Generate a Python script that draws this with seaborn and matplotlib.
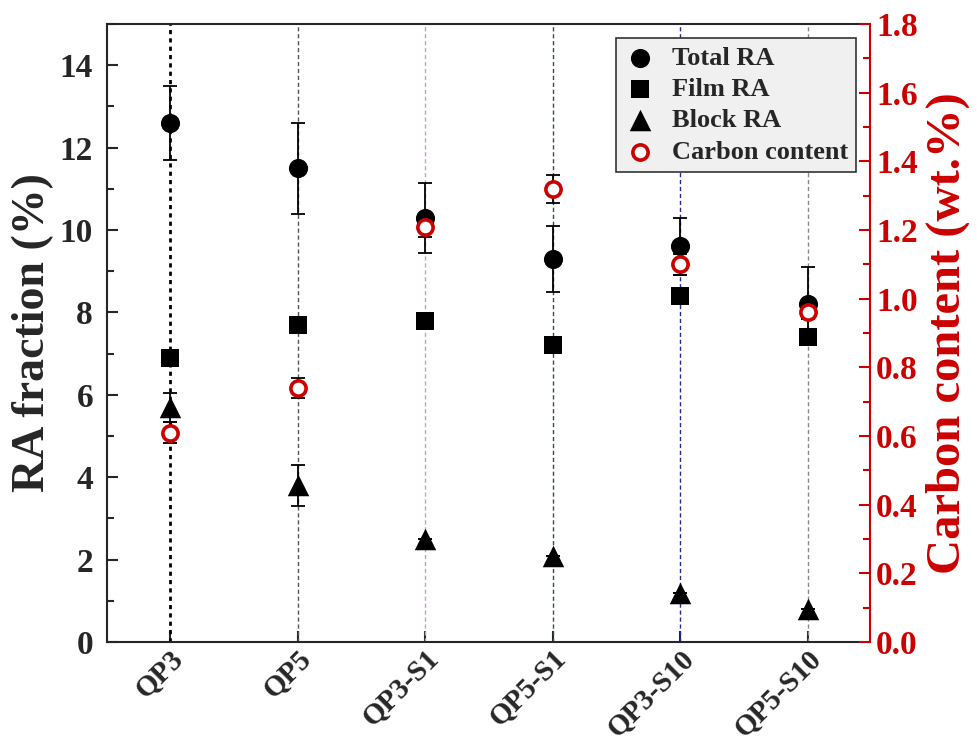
import matplotlib
matplotlib.use("Agg")
import matplotlib.pyplot as plt
import matplotlib.transforms as mtransforms
import pandas as pd
import seaborn as sns
from matplotlib.ticker import AutoMinorLocator, MultipleLocator, FormatStrFormatter

# Data
samples = ["QP3", "QP5", "QP3-S1", "QP5-S1", "QP3-S10", "QP5-S10"]
total_ra = [12.6, 11.5, 10.3, 9.3, 9.6, 8.2]
total_err = [0.9, 1.1, 0.85, 0.8, 0.7, 0.9]
film_ra = [6.9, 7.7, 7.8, 7.2, 8.4, 7.4]
block_ra = [5.7, 3.8, 2.5, 2.1, 1.2, 0.8]
block_err = [0.35, 0.5, 0.0, 0.0, 0.0, 0.0]
carbon = [0.61, 0.74, 1.21, 1.32, 1.10, 0.96]
carbon_err = [0.03, 0.03, 0.03, 0.04, 0.03, 0.02]

guide_colors = ["black", "#555555", "#c89ad8", "#2f4f4f", "#2a2a8a", "#8a8a8a"]

RED = "#cc0000"

sns.set_style("ticks")
plt.rcParams["font.family"] = ["Liberation Serif", "DejaVu Serif"]
plt.rcParams["font.weight"] = "bold"

df = pd.DataFrame({
    "pos": range(len(samples)),
    "total": total_ra,
    "film": film_ra,
    "block": block_ra,
    "carbon": carbon,
})

fig = plt.figure(figsize=(9.78, 7.43), dpi=100)
ax = fig.add_axes([0.1094, 0.1359, 0.772, 0.8318])
ax2 = ax.twinx()

# vertical guide lines per sample
for i, c in enumerate(guide_colors):
    if i == 0:
        ax.axvline(i, color=c, ls=(0, (1.5, 1.5)), lw=2.0, zorder=1)
    else:
        ax.axvline(i, color=c, ls=(0, (3, 2)), lw=1.0, zorder=1)

ax.errorbar(df["pos"], df["total"], yerr=total_err, fmt="none", ecolor="black",
            elinewidth=1.3, capsize=5, capthick=1.3, zorder=2)
ax.errorbar(df["pos"], df["block"], yerr=block_err, fmt="none", ecolor="black",
            elinewidth=1.3, capsize=5, capthick=1.3, zorder=2)

sns.scatterplot(data=df, x="pos", y="total", marker="o", s=190, color="black",
                edgecolor="black", linewidth=0, ax=ax, label="Total RA", zorder=3)
sns.scatterplot(data=df, x="pos", y="film", marker="s", s=165, color="black",
                edgecolor="black", linewidth=0, ax=ax, label="Film RA", zorder=3)
sns.scatterplot(data=df, x="pos", y="block", marker="^", s=240, color="black",
                edgecolor="black", linewidth=0, ax=ax, label="Block RA", zorder=3)

ax2.errorbar(df["pos"], df["carbon"], yerr=carbon_err, fmt="none", ecolor="black",
             elinewidth=1.3, capsize=5, capthick=1.3, zorder=2)
sns.scatterplot(data=df, x="pos", y="carbon", marker="o", s=120, facecolor="white",
                edgecolor=RED, linewidth=2.6, ax=ax2, label="Carbon content", zorder=3)

ax.set_xlim(-0.494, 5.423)
ax.set_ylim(0, 15)
ax2.set_ylim(0, 1.8)

ax.set_xticks(range(len(samples)))
ax.set_xticklabels(samples, rotation=45, ha="right", rotation_mode="anchor",
                   fontsize=21, fontweight="bold")
shift = mtransforms.ScaledTranslation(10 / 100, 0, fig.dpi_scale_trans)
for lab in ax.get_xticklabels():
    lab.set_transform(lab.get_transform() + shift)
ax.set_xlabel("")
ax.set_ylabel("RA fraction (%)", fontsize=33, fontweight="bold", labelpad=4)
ax2.set_ylabel("Carbon content (wt.%)", fontsize=35, fontweight="bold",
               color=RED, labelpad=6)

ax.yaxis.set_major_locator(MultipleLocator(2))
ax.yaxis.set_minor_locator(AutoMinorLocator(2))
ax2.yaxis.set_major_locator(MultipleLocator(0.2))
ax2.yaxis.set_minor_locator(AutoMinorLocator(2))
ax2.yaxis.set_major_formatter(FormatStrFormatter("%.1f"))

ax.tick_params(axis="both", which="major", direction="in", length=8, width=1.5)
ax.tick_params(axis="y", which="major", labelsize=24, pad=10)
ax.tick_params(axis="y", which="minor", direction="in", length=5, width=1.5)
ax.tick_params(axis="x", which="major", pad=2)
ax.tick_params(axis="y", which="both", right=False)
ax2.tick_params(axis="y", which="major", direction="in", length=8, width=1.5,
                color=RED, labelcolor=RED, labelsize=24, pad=4)
ax2.tick_params(axis="y", which="minor", direction="in", length=5, width=1.5, color=RED)

for sp in ["left", "bottom", "top"]:
    ax.spines[sp].set_linewidth(1.5)
ax.spines["right"].set_visible(False)
ax2.spines["right"].set_color(RED)
ax2.spines["right"].set_linewidth(1.5)
ax2.spines["right"].set_position(("outward", 6))
for sp in ["left", "bottom", "top"]:
    ax2.spines[sp].set_visible(False)

h1, l1 = ax.get_legend_handles_labels()
h2, l2 = ax2.get_legend_handles_labels()
if ax.get_legend() is not None:
    ax.get_legend().remove()
if ax2.get_legend() is not None:
    ax2.get_legend().remove()
leg = ax2.legend(h1 + h2, l1 + l2, loc="upper right", bbox_to_anchor=(0.992, 0.977),
                 borderaxespad=0, frameon=True, fancybox=False,
                 prop={"weight": "bold", "size": 19}, handletextpad=0.6,
                 labelspacing=0.3, borderpad=0.3, handlelength=1.2)
leg.get_frame().set_edgecolor("#333333")
leg.get_frame().set_linewidth(1.2)
leg.get_frame().set_facecolor("#f0f0f0")
leg.get_frame().set_alpha(1)

fig.savefig("out.png", dpi=100)
